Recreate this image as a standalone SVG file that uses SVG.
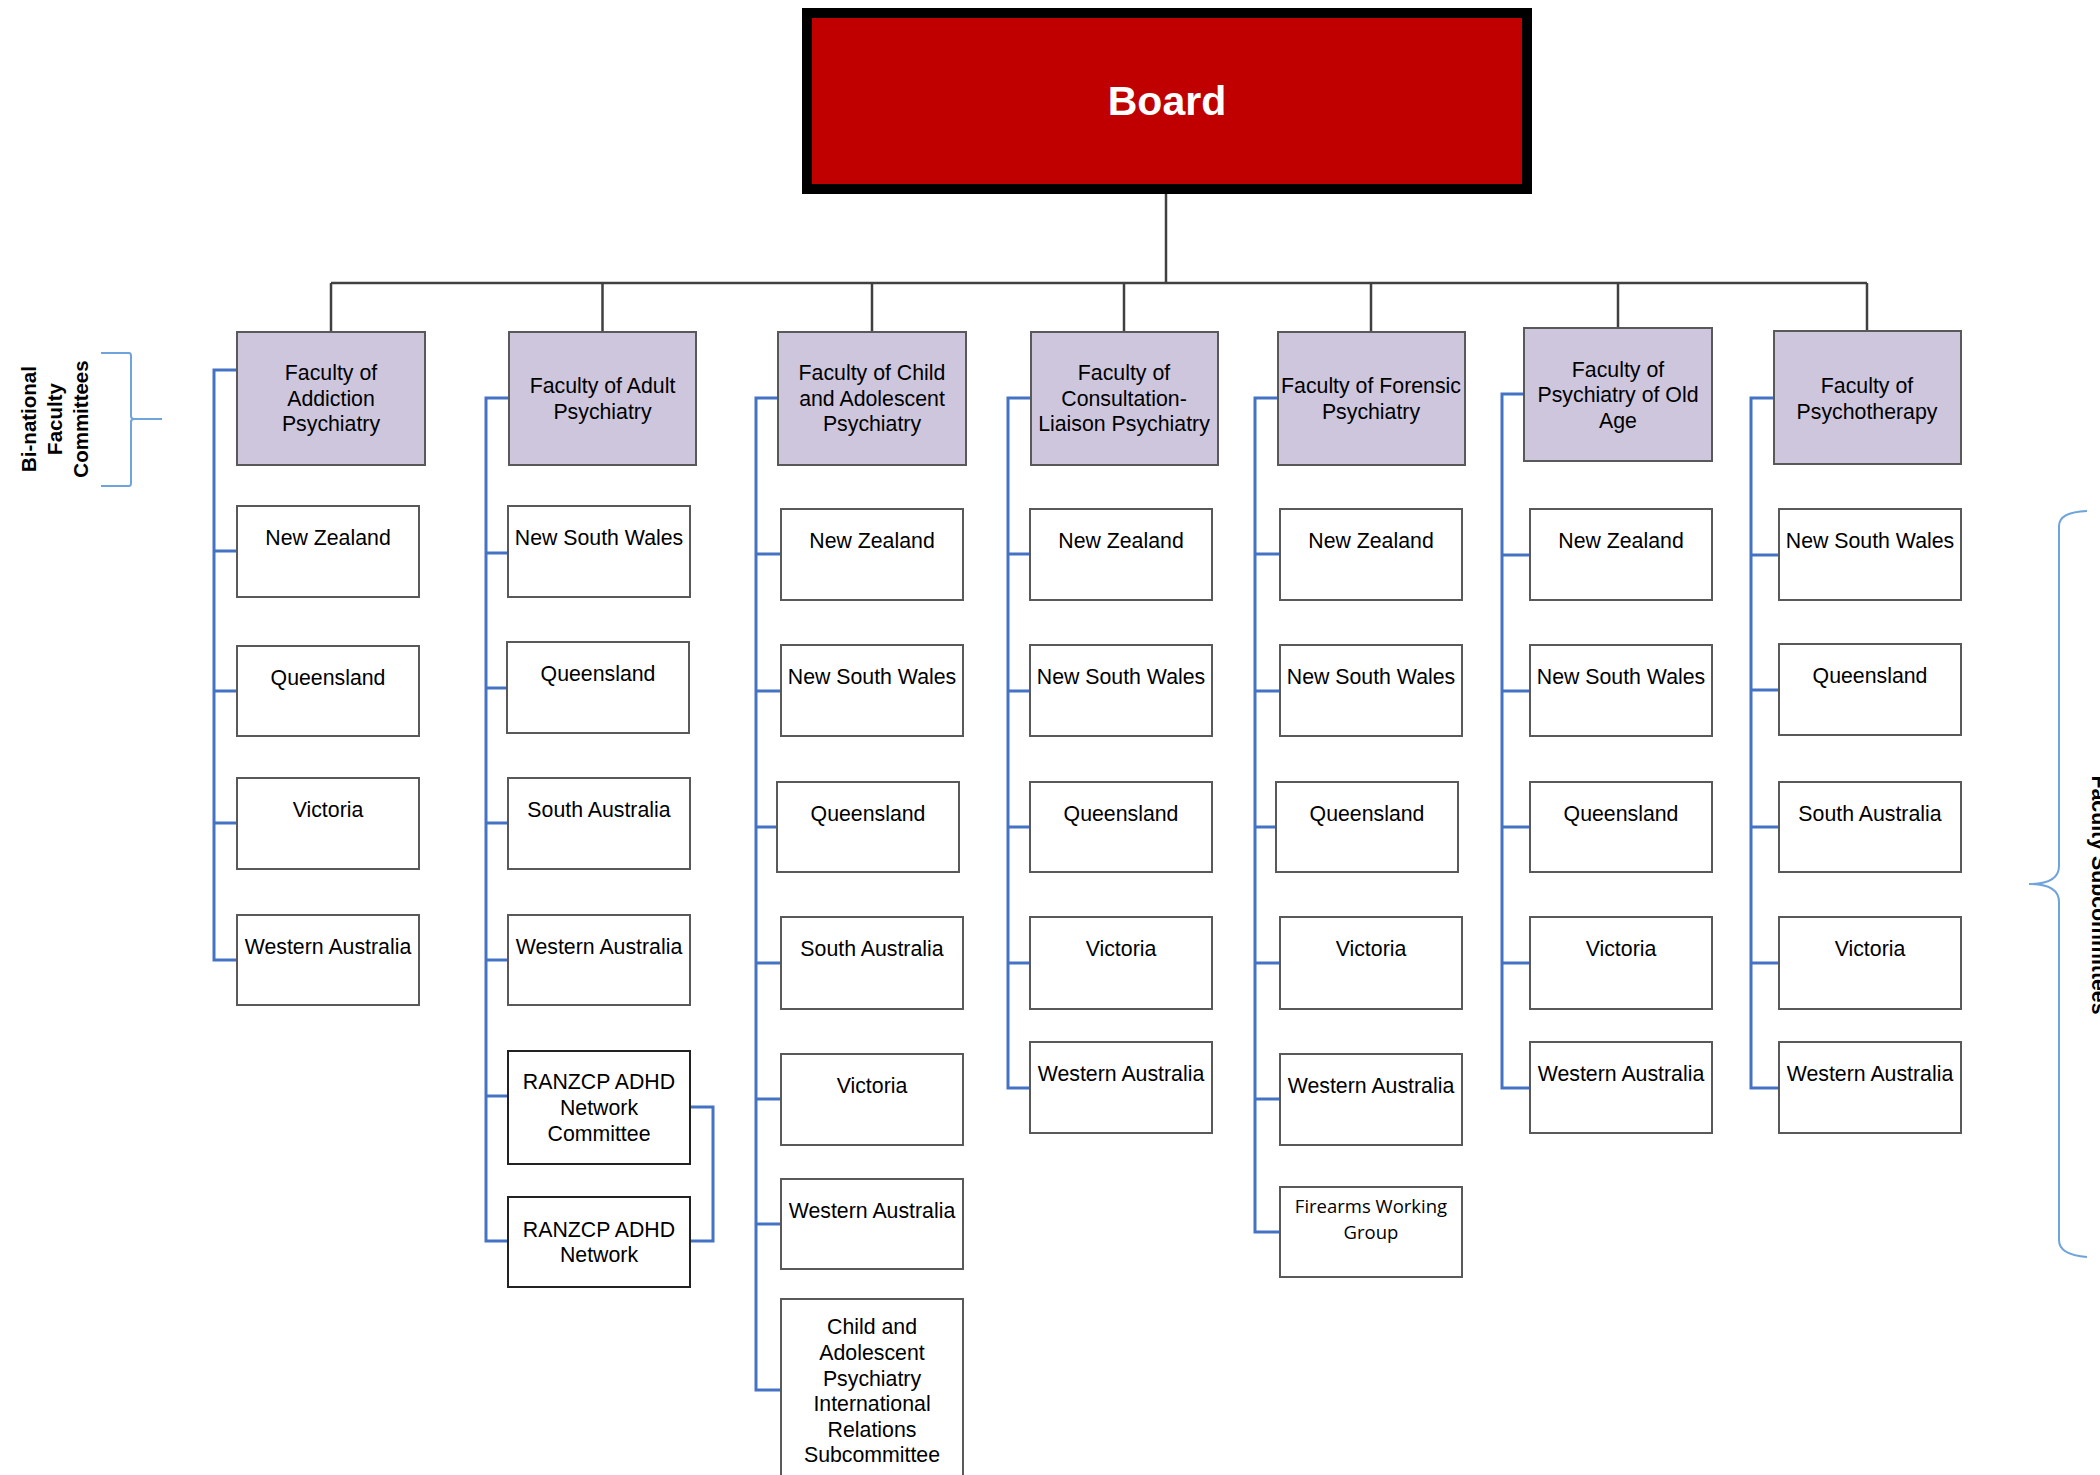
<svg xmlns="http://www.w3.org/2000/svg" width="2100" height="1475" viewBox="0 0 2100 1475">
<style>
text{font-family:"Liberation Sans",Arial,sans-serif;font-size:21.3px;fill:#000;text-anchor:middle}
.fac{fill:#cdc6dc;stroke:#595959;stroke-width:2}
.box{fill:#fff;stroke:#595959;stroke-width:2}
.gray{fill:none;stroke:#404040;stroke-width:2.5}
.blue{fill:none;stroke:#4472c4;stroke-width:3}
.brk{fill:none;stroke:#6fa3dc;stroke-width:2}
.bold{font-weight:bold}
.cal{font-family:"Open Sans","Noto Sans",sans-serif;font-size:18.5px}
</style>
<rect width="2100" height="1475" fill="#fff"/>
<g id="connectors">
<path class="gray" d="M1166 194V283M331 283H1867M331 283V332M602.5 283V332M872 283V332M1124 283V332M1371 283V332M1618 283V328M1867 283V331"/>
<path class="blue" d="M237 370H214V960H237M214 551H237M214 691H237M214 823H237"/>
<path class="blue" d="M509 398H486V1241H508M486 553H508M486 688H507M486 823H508M486 960H508M486 1096H508M690 1107H713V1241H690"/>
<path class="blue" d="M778 398H756V1390H781M756 554H781M756 691H781M756 827H777M756 963H781M756 1099H781M756 1224H781"/>
<path class="blue" d="M1031 398H1008V1088H1030M1008 554H1030M1008 691H1030M1008 827H1030M1008 963H1030"/>
<path class="blue" d="M1278 398H1255V1232H1280M1255 554H1280M1255 691H1280M1255 827H1276M1255 963H1280M1255 1099H1280"/>
<path class="blue" d="M1524 394H1502V1088H1530M1502 555H1530M1502 691H1530M1502 827H1530M1502 963H1530"/>
<path class="blue" d="M1774 398H1751V1088H1779M1751 555H1779M1751 690H1779M1751 827H1779M1751 963H1779"/>
</g>
<g id="board">
<rect x="807" y="13" width="720" height="176" fill="#c00000" stroke="#000" stroke-width="10"/>
<text x="1167" y="115" class="bold" style="font-size:41px;fill:#fff">Board</text>
</g>
<g id="fac-addiction"><rect class="fac" x="237" y="332" width="188" height="133"/><text x="331" y="380">Faculty of</text><text x="331" y="405.5">Addiction</text><text x="331" y="431">Psychiatry</text></g>
<g id="fac-adult"><rect class="fac" x="509" y="332" width="187" height="133"/><text x="602.5" y="393">Faculty of Adult</text><text x="602.5" y="418.5">Psychiatry</text></g>
<g id="fac-child"><rect class="fac" x="778" y="332" width="188" height="133"/><text x="872" y="380">Faculty of Child</text><text x="872" y="405.5">and Adolescent</text><text x="872" y="431">Psychiatry</text></g>
<g id="fac-cl"><rect class="fac" x="1031" y="332" width="187" height="133"/><text x="1124" y="380">Faculty of</text><text x="1124" y="405.5">Consultation-</text><text x="1124" y="431">Liaison Psychiatry</text></g>
<g id="fac-forensic"><rect class="fac" x="1278" y="332" width="187" height="133"/><text x="1371" y="393">Faculty of Forensic</text><text x="1371" y="418.5">Psychiatry</text></g>
<g id="fac-oldage"><rect class="fac" x="1524" y="328" width="188" height="133"/><text x="1618" y="377">Faculty of</text><text x="1618" y="402">Psychiatry of Old</text><text x="1618" y="428">Age</text></g>
<g id="fac-psychotherapy"><rect class="fac" x="1774" y="331" width="187" height="133"/><text x="1867" y="393">Faculty of</text><text x="1867" y="419">Psychotherapy</text></g>

<g id="c1-nz"><rect class="box" x="237" y="506" width="182" height="91"/><text x="328" y="545">New Zealand</text></g>
<g id="c1-qld"><rect class="box" x="237" y="646" width="182" height="90"/><text x="328" y="685">Queensland</text></g>
<g id="c1-vic"><rect class="box" x="237" y="778" width="182" height="91"/><text x="328" y="817">Victoria</text></g>
<g id="c1-wa"><rect class="box" x="237" y="915" width="182" height="90"/><text x="328" y="954">Western Australia</text></g>

<g id="c2-nsw"><rect class="box" x="508" y="506" width="182" height="91"/><text x="599" y="545">New South Wales</text></g>
<g id="c2-qld"><rect class="box" x="507" y="642" width="182" height="91"/><text x="598" y="681">Queensland</text></g>
<g id="c2-sa"><rect class="box" x="508" y="778" width="182" height="91"/><text x="599" y="817">South Australia</text></g>
<g id="c2-wa"><rect class="box" x="508" y="915" width="182" height="90"/><text x="599" y="954">Western Australia</text></g>
<g id="c2-adhdnc"><rect class="box" x="508" y="1051" width="182" height="113" style="stroke:#222"/><text x="599" y="1089">RANZCP ADHD</text><text x="599" y="1115">Network</text><text x="599" y="1141">Committee</text></g>
<g id="c2-adhdn"><rect class="box" x="508" y="1197" width="182" height="90" style="stroke:#222"/><text x="599" y="1237">RANZCP ADHD</text><text x="599" y="1262">Network</text></g>

<g id="c3-nz"><rect class="box" x="781" y="509" width="182" height="91"/><text x="872" y="548">New Zealand</text></g>
<g id="c3-nsw"><rect class="box" x="781" y="645" width="182" height="91"/><text x="872" y="684">New South Wales</text></g>
<g id="c3-qld"><rect class="box" x="777" y="782" width="182" height="90"/><text x="868" y="821">Queensland</text></g>
<g id="c3-sa"><rect class="box" x="781" y="917" width="182" height="92"/><text x="872" y="956">South Australia</text></g>
<g id="c3-vic"><rect class="box" x="781" y="1054" width="182" height="91"/><text x="872" y="1093">Victoria</text></g>
<g id="c3-wa"><rect class="box" x="781" y="1179" width="182" height="90"/><text x="872" y="1218">Western Australia</text></g>
<g id="c3-intl"><rect class="box" x="781" y="1299" width="182" height="183"/><text x="872" y="1334">Child and</text><text x="872" y="1360">Adolescent</text><text x="872" y="1386">Psychiatry</text><text x="872" y="1411">International</text><text x="872" y="1437">Relations</text><text x="872" y="1462">Subcommittee</text></g>

<g id="c4-nz"><rect class="box" x="1030" y="509" width="182" height="91"/><text x="1121" y="548">New Zealand</text></g>
<g id="c4-nsw"><rect class="box" x="1030" y="645" width="182" height="91"/><text x="1121" y="684">New South Wales</text></g>
<g id="c4-qld"><rect class="box" x="1030" y="782" width="182" height="90"/><text x="1121" y="821">Queensland</text></g>
<g id="c4-vic"><rect class="box" x="1030" y="917" width="182" height="92"/><text x="1121" y="956">Victoria</text></g>
<g id="c4-wa"><rect class="box" x="1030" y="1042" width="182" height="91"/><text x="1121" y="1081">Western Australia</text></g>

<g id="c5-nz"><rect class="box" x="1280" y="509" width="182" height="91"/><text x="1371" y="548">New Zealand</text></g>
<g id="c5-nsw"><rect class="box" x="1280" y="645" width="182" height="91"/><text x="1371" y="684">New South Wales</text></g>
<g id="c5-qld"><rect class="box" x="1276" y="782" width="182" height="90"/><text x="1367" y="821">Queensland</text></g>
<g id="c5-vic"><rect class="box" x="1280" y="917" width="182" height="92"/><text x="1371" y="956">Victoria</text></g>
<g id="c5-wa"><rect class="box" x="1280" y="1054" width="182" height="91"/><text x="1371" y="1093">Western Australia</text></g>
<g id="c5-firearms"><rect class="box" x="1280" y="1187" width="182" height="90"/><text class="cal" x="1371" y="1213">Firearms Working</text><text class="cal" x="1371" y="1239">Group</text></g>

<g id="c6-nz"><rect class="box" x="1530" y="509" width="182" height="91"/><text x="1621" y="548">New Zealand</text></g>
<g id="c6-nsw"><rect class="box" x="1530" y="645" width="182" height="91"/><text x="1621" y="684">New South Wales</text></g>
<g id="c6-qld"><rect class="box" x="1530" y="782" width="182" height="90"/><text x="1621" y="821">Queensland</text></g>
<g id="c6-vic"><rect class="box" x="1530" y="917" width="182" height="92"/><text x="1621" y="956">Victoria</text></g>
<g id="c6-wa"><rect class="box" x="1530" y="1042" width="182" height="91"/><text x="1621" y="1081">Western Australia</text></g>

<g id="c7-nsw"><rect class="box" x="1779" y="509" width="182" height="91"/><text x="1870" y="548">New South Wales</text></g>
<g id="c7-qld"><rect class="box" x="1779" y="644" width="182" height="91"/><text x="1870" y="683">Queensland</text></g>
<g id="c7-sa"><rect class="box" x="1779" y="782" width="182" height="90"/><text x="1870" y="821">South Australia</text></g>
<g id="c7-vic"><rect class="box" x="1779" y="917" width="182" height="92"/><text x="1870" y="956">Victoria</text></g>
<g id="c7-wa"><rect class="box" x="1779" y="1042" width="182" height="91"/><text x="1870" y="1081">Western Australia</text></g>

<g id="binational">
<path class="brk" d="M101 353H129Q131 353 131 356V416Q131 419 134 419H162M134 419Q131 419 131 422V483Q131 486 129 486H101"/>
<g transform="translate(0 419) rotate(-90)" class="bold"><text x="0" y="35.5" class="bold" style="font-size:20.5px">Bi-national</text><text x="0" y="62" class="bold" style="font-size:20.5px">Faculty</text><text x="0" y="87.5" class="bold" style="font-size:20.5px">Committees</text></g>
</g>
<g id="subcommittees">
<path class="brk" d="M2087 511Q2059 512 2059 526V866Q2059 884 2029 884Q2059 884 2059 902V1240Q2059 1255 2087 1257"/>
<text transform="translate(2092 895) rotate(90)" x="0" y="0" class="bold" style="font-size:21.3px">Faculty Subcommittees</text>
</g>
</svg>
